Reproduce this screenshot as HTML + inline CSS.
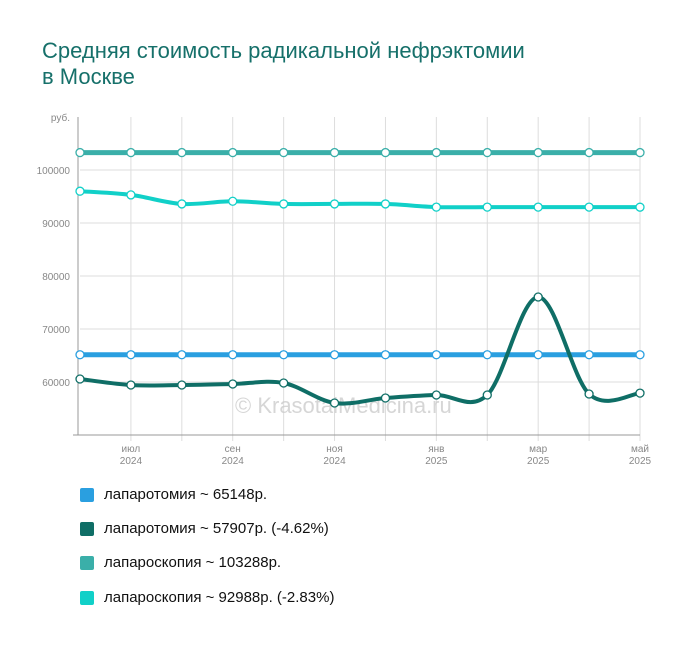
<!DOCTYPE html>
<html><head><meta charset="utf-8"><style>
body{margin:0;background:#fff;font-family:"Liberation Sans",sans-serif}
#t{position:absolute;left:42px;top:38px;font-size:22px;line-height:26px;color:#16706a}
.lg{position:absolute;left:80px;font-size:15px;color:#111;display:flex;align-items:center}
.lg span{display:inline-block;width:14px;height:14px;border-radius:2px;margin-right:10px}
</style></head><body>
<div id="t">Средняя стоимость радикальной нефрэктомии<br>в Москве</div>
<svg id="c" width="700" height="470" style="position:absolute;left:0;top:0"></svg>
<div class="lg" style="top:486px"><span style="background:#2a9fe0"></span>лапаротомия ~ 65148р.</div>
<div class="lg" style="top:520px"><span style="background:#0f6e66"></span>лапаротомия ~ 57907р. (-4.62%)</div>
<div class="lg" style="top:554px"><span style="background:#3aafa9"></span>лапароскопия ~ 103288р.</div>
<div class="lg" style="top:589px"><span style="background:#11d0c8"></span>лапароскопия ~ 92988р. (-2.83%)</div>
<script>
const months=["","июл","","сен","","ноя","","янв","","мар","","май"];
const years=["","2024","","2024","","2024","","2025","","2025","","2025"];
const yTicks=[60000,70000,80000,90000,100000];
const blueVals=[65148,65148,65148,65148,65148,65148,65148,65148,65148,65148,65148,65148];
const tealVals=[103288,103288,103288,103288,103288,103288,103288,103288,103288,103288,103288,103288];
const cyanVals=[96000,95300,93600,94100,93600,93600,93600,93000,93000,93000,93000,92988];
const darkVals=[60570,59430,59430,59620,59810,56040,56980,57550,57550,76040,57740,57907];
const NS="http://www.w3.org/2000/svg",svg=document.getElementById('c');
const X0=80,X1=640,Y0=435,Ymin=50000,Ymax=110000,Ytop=117;
const x=i=>X0+i*(X1-X0)/11;
const y=v=>Y0-(v-Ymin)/(Ymax-Ymin)*(Y0-Ytop);
function el(tag,a){const e=document.createElementNS(NS,tag);for(const k in a)e.setAttribute(k,a[k]);svg.appendChild(e);return e;}
for(const v of yTicks){const l=el('line',{x1:X0,x2:X1,y1:y(v),y2:y(v),stroke:'#ddd'});
const t=el('text',{x:70,y:y(v)+4,'text-anchor':'end','font-size':10,fill:'#888'});t.textContent=v;}
const ru=el('text',{x:70,y:Ytop+4,'text-anchor':'end','font-size':10,fill:'#888'});ru.textContent='руб.';

for(let i=1;i<12;i++){const l=el('line',{x1:x(i),x2:x(i),y1:Ytop,y2:Y0+6,stroke:'#ddd'});
if(months[i]){const t=el('text',{x:x(i),y:Y0+17,'text-anchor':'middle','font-size':10,fill:'#888'});t.textContent=months[i];
const t2=el('text',{x:x(i),y:Y0+29,'text-anchor':'middle','font-size':10,fill:'#888'});t2.textContent=years[i];}}
const ax=el('line',{x1:X0-2,x2:X0-2,y1:Ytop,y2:Y0,stroke:'#999'});
const bx=el('line',{x1:73,x2:X1,y1:Y0,y2:Y0,stroke:'#999'});
const wm=el('text',{x:235,y:413,'font-size':22,fill:'#ccc','fill-opacity':0.8});wm.textContent='© KrasotaiMedicina.ru';

function pathOf(vals){const p=vals.map((v,i)=>[x(i),y(v)]);let d='M'+p[0];
for(let i=0;i<p.length-1;i++){const a=p[i-1]||p[i],b=p[i],c=p[i+1],e=p[i+2]||c;
d+=` C${b[0]+(c[0]-a[0])/6},${b[1]+(c[1]-a[1])/6} ${c[0]-(e[0]-b[0])/6},${c[1]-(e[1]-b[1])/6} ${c[0]},${c[1]}`;}return d;}
function series(vals,col,w,name){const p=el('path',{d:pathOf(vals),fill:'none',stroke:col,'stroke-width':w});

vals.forEach((v,i)=>{const c=el('circle',{cx:x(i),cy:y(v),r:4,fill:'#fff',stroke:col,'stroke-width':1.3});
});}
series(tealVals,'#3aafa9',5,'laparoscopy');
series(cyanVals,'#11d0c8',4,'laparoscopy-trend');
series(blueVals,'#2a9fe0',5,'laparotomy');
series(darkVals,'#0f6e66',4,'laparotomy-trend');
</script>
</body></html>
